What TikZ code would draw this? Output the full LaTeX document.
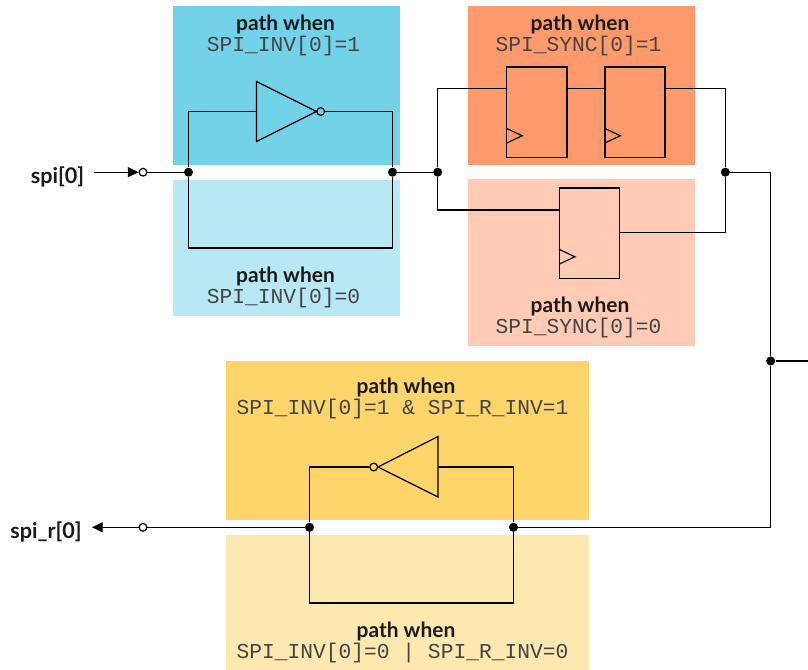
\documentclass[tikz,border=0pt]{standalone}
\usepackage{fontspec}
\setmainfont{Lato}
\newfontfamily\codefont{Liberation Mono}
\usetikzlibrary{arrows.meta}
\definecolor{blueA}{HTML}{71D2E8}
\definecolor{blueB}{HTML}{B8E8F4}
\definecolor{orangeA}{HTML}{FF9A6C}
\definecolor{orangeB}{HTML}{FFCBB5}
\definecolor{yellowA}{HTML}{FDD56B}
\definecolor{yellowB}{HTML}{FDE8B0}
\definecolor{inkA}{HTML}{1A1A1A}
\definecolor{inkB}{HTML}{444444}
\tikzset{
  wire/.style={draw=black,line width=0.9pt},
  dotn/.style={circle,fill=black,inner sep=0pt,minimum size=6.8pt},
  bubble/.style={circle,draw=black,fill=white,line width=0.9pt,inner sep=0pt,minimum size=5.8pt},
  panel/.style={inner sep=0pt,anchor=north west},
  title/.style={font=\fontsize{15.7}{18}\selectfont\bfseries,text=inkA,inner sep=0pt},
  code/.style={font=\fontsize{15.95}{18}\codefont,text=inkB,inner sep=0pt},
  pin/.style={font=\fontsize{16.2}{18}\selectfont\bfseries,text=inkA,inner sep=0pt},
  ffbox/.style={draw=black,line width=0.9pt,fill=none,inner sep=0pt,minimum width=45.1pt,minimum height=68pt},
  tip/.style={-{Triangle[length=8pt,width=7.5pt]}}
}
\begin{document}
\begin{tikzpicture}[x=0.75pt,y=-0.75pt]
\useasboundingbox (0,0) rectangle (808,670);
% panels
\node[panel,fill=blueA,minimum width=170.25pt,minimum height=119.25pt] (pa) at (173,6) {};
\node[panel,fill=blueB,minimum width=170.25pt,minimum height=102pt] (pb) at (173,180) {};
\node[panel,fill=orangeA,minimum width=170.25pt,minimum height=119.25pt] (pc) at (468,6) {};
\node[panel,fill=orangeB,minimum width=170.25pt,minimum height=125.25pt] (pd) at (468,179) {};
\node[panel,fill=yellowA,minimum width=272.25pt,minimum height=119.25pt] (pe) at (226,361) {};
\node[panel,fill=yellowB,minimum width=272.25pt,minimum height=101.25pt] (pf) at (226,535) {};
% texts
\node[title] (t1) at (285.5,24) {path when};
\node[code] (c1) at (283.5,46.5) {SPI\_INV[0]=1};
\node[title] (t2) at (285.5,276) {path when};
\node[code] (c2) at (283.5,298.5) {SPI\_INV[0]=0};
\node[title] (t3) at (580,24) {path when};
\node[code] (c3) at (578.5,46.5) {SPI\_SYNC[0]=1};
\node[title] (t4) at (580,306) {path when};
\node[code] (c4) at (578.5,328.5) {SPI\_SYNC[0]=0};
\node[title] (t5) at (406,387) {path when};
\node[code] (c5) at (402.5,409.5) {SPI\_INV[0]=1 \& SPI\_R\_INV=1};
\node[title] (t6) at (406,631) {path when};
\node[code] (c6) at (402.5,653.5) {SPI\_INV[0]=0 | SPI\_R\_INV=0};
\node[pin] (lspi) at (57.5,177) {spi[0]};
\node[pin] (lspir) at (46,532) {spi\_r[0]};
% junctions
\node[dotn] (j1) at (188.5,172.2) {};
\node[dotn] (j2) at (392.5,172.2) {};
\node[dotn] (j3) at (437.7,172.2) {};
\node[dotn] (j4) at (725.3,172.2) {};
\node[dotn] (j5) at (770.7,361) {};
\node[dotn] (j6) at (309.5,527.3) {};
\node[dotn] (j7) at (513.5,527.3) {};
\node[bubble] (b1) at (143,172.2) {};
\node[bubble] (b2) at (143,527.3) {};
% free ends and corners
\coordinate (sstart) at (94,172.2);
\coordinate (rend) at (92,527.3);
\coordinate (rout) at (808,361);
% inverter 1
\coordinate (i1a) at (256.5,81.5);
\coordinate (i1b) at (256.5,141.5);
\coordinate (i1t) at (316.5,111.5);
\coordinate (i1in) at (256.5,111.5);
\draw[wire] (i1a) -- (i1t) -- (i1b) -- cycle;
\node[bubble,fill=none] (b3) at (320.7,111.5) {};
% inverter 2
\coordinate (i2a) at (438,436.5);
\coordinate (i2b) at (438,497);
\coordinate (i2t) at (378,467);
\coordinate (i2in) at (438,467);
\draw[wire] (i2a) -- (i2t) -- (i2b) -- cycle;
\node[bubble,fill=none] (b4) at (373.7,467) {};
% flip-flops
\node[ffbox,anchor=north west] (ff1) at (506.2,66.4) {};
\node[ffbox,anchor=north west] (ff2) at (604.3,66.4) {};
\node[ffbox,anchor=north west] (ff3) at (558.9,187.4) {};
\foreach \f in {ff1,ff2,ff3}{
  \draw[wire] (\f.south west) ++(0,-30) -- ++(16,7.5) -- ++(-16,7.5);
}
% wires
\draw[wire,tip] (sstart) -- (b1.west);
\draw[wire] (b1) -- (j1);
\draw[wire] (j1) |- (i1in);
\draw[wire] (b3) -| (j2);
\draw[wire] (j1) |- (392.5,248) -- (j2);
\draw[wire] (j2) -- (j3);
\draw[wire] (j3) |- (ff1.west |- 0,88.9);
\draw[wire] (ff1.east |- 0,88.9) -- (ff2.west |- 0,88.9);
\draw[wire] (ff2.east |- 0,88.9) -| (j4);
\draw[wire] (j3) |- (ff3.west |- 0,210);
\draw[wire] (ff3.east |- 0,232.7) -| (j4);
\draw[wire] (j4) -| (j5);
\draw[wire] (j5) -- (rout);
\draw[wire] (j5) |- (j7);
\draw[wire] (j7) |- (i2in);
\draw[wire] (b4) -| (j6);
\draw[wire] (j6) |- (513.5,603) -- (j7);
\draw[wire] (j6) -- (b2);
\draw[wire,tip] (b2.west) -- (rend);
\end{tikzpicture}
\end{document}
